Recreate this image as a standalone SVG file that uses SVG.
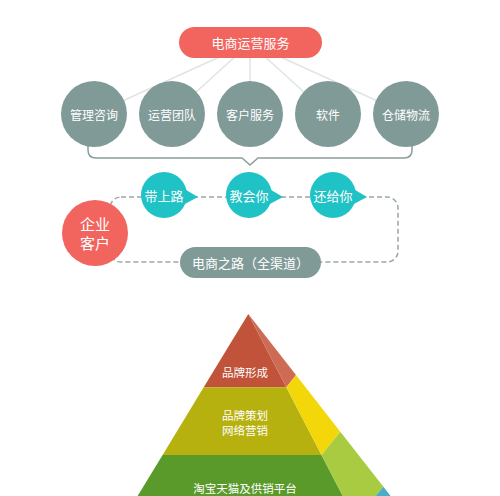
<svg xmlns="http://www.w3.org/2000/svg" width="500" height="496" viewBox="0 0 500 496">
<style>
text{font-family:"Noto Sans CJK SC","Noto Sans",sans-serif;fill:#fff;text-anchor:middle;dominant-baseline:central}
.gray{fill:#7f9a97}
.teal{fill:#1fc2c5}
.red{fill:#f2645e}
.line{stroke:#e2e4e4;stroke-width:1.5;fill:none}
.dash{stroke:#9aa6a6;stroke-width:1.5;fill:none;stroke-dasharray:5 3}
.t13{font-size:13px}
.t12{font-size:12px}
.t11{font-size:11.5px}
</style>
<rect width="500" height="496" fill="#fff"/>
<g id="connectors">
<line class="line" x1="250" y1="43" x2="94" y2="114"/>
<line class="line" x1="250" y1="43" x2="172" y2="114"/>
<line class="line" x1="250" y1="43" x2="250" y2="114"/>
<line class="line" x1="250" y1="43" x2="328" y2="114"/>
<line class="line" x1="250" y1="43" x2="406" y2="114"/>
<path d="M88,140 V150 Q88,158 96,158 H242 L250,165 L258,158 H404 Q412,158 412,150 V140" fill="none" stroke="#8a9e9b" stroke-width="1.5"/>
<rect class="dash" x="110" y="197" width="288" height="65" rx="11"/>
</g>
<g id="top">
<rect class="red" x="179" y="27" width="143" height="31" rx="15.5"/>
<text class="t13" x="250.5" y="42.5">电商运营服务</text>
</g>
<g id="n1"><circle class="gray" cx="94" cy="114" r="33"/><text class="t12" x="94" y="114">管理咨询</text></g>
<g id="n2"><circle class="gray" cx="172" cy="114" r="33"/><text class="t12" x="172" y="114">运营团队</text></g>
<g id="n3"><circle class="gray" cx="250" cy="114" r="33"/><text class="t12" x="250" y="114">客户服务</text></g>
<g id="n4"><circle class="gray" cx="328" cy="114" r="33"/><text class="t12" x="328" y="114">软件</text></g>
<g id="n5"><circle class="gray" cx="406" cy="114" r="33"/><text class="t12" x="406" y="114">仓储物流</text></g>
<g id="b1"><circle class="teal" cx="164" cy="195" r="23"/><polygon class="teal" points="181,187 198,197 181,206"/><text class="t13" x="164" y="195">带上路</text></g>
<g id="b2"><circle class="teal" cx="249" cy="195" r="23"/><polygon class="teal" points="266,187 283,197 266,206"/><text class="t13" x="249" y="195">教会你</text></g>
<g id="b3"><circle class="teal" cx="333" cy="195" r="23"/><polygon class="teal" points="350,187 367,197 350,206"/><text class="t13" x="333" y="195">还给你</text></g>
<g id="client"><circle class="red" cx="95" cy="233" r="33"/><text x="95" y="223.5" style="font-size:15px">企业</text><text x="95" y="242.5" style="font-size:15px">客户</text></g>
<g id="road"><rect class="gray" x="180" y="247" width="141" height="31" rx="15.5"/><text class="t13" x="250.5" y="262.5">电商之路（全渠道）</text></g>
<g id="pyramid">
<polygon fill="#c0533a" points="248.3,314 286.3,387.3 203.7,387.3"/>
<polygon fill="#cd6b55" points="248.3,314 296,375 286.3,387.3"/>
<polygon fill="#b6b10f" points="203.7,387.3 286.3,387.3 321.5,455 162.6,455"/>
<polygon fill="#f3d70a" points="296,375 340.3,431.7 321.5,455 286.3,387.3"/>
<polygon fill="#5a9a2a" points="162.6,455 321.5,455 342.8,496 137.6,496"/>
<polygon fill="#a9cb42" points="340.3,431.7 383.4,486.7 375.6,496 342.8,496 321.5,455"/>
<polygon fill="#4aacc6" points="383.4,486.7 390.6,496 375.6,496"/>
<text class="t11" x="245" y="372">品牌形成</text>
<text class="t11" x="245" y="415">品牌策划</text>
<text class="t11" x="245" y="430">网络营销</text>
<text class="t11" x="245" y="487.5">淘宝天猫及供销平台</text>
</g>
</svg>
